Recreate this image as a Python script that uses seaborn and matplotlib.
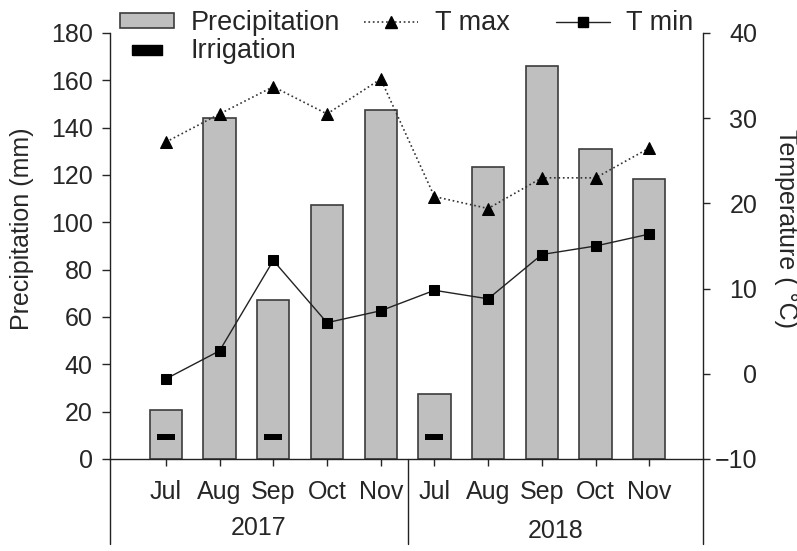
import numpy as np
import pandas as pd
import seaborn as sns
import matplotlib.pyplot as plt
from matplotlib.lines import Line2D
from matplotlib.patches import Patch

# data
months = ['Jul', 'Aug', 'Sep', 'Oct', 'Nov', 'Jul', 'Aug', 'Sep', 'Oct', 'Nov']
years = ['2017', '2018']
precip = [20.5, 144, 67, 107.5, 147.5, 27.5, 123.5, 166, 131, 118.5]
tmax = [27.2, 30.5, 33.7, 30.5, 34.6, 20.8, 19.4, 23.0, 23.0, 26.5]
tmin = [-0.6, 2.7, 13.3, 6.0, 7.4, 9.8, 8.8, 14.0, 15.0, 16.4]
irr_idx = [0, 2, 5]
irr_val = [9.4, 9.4, 9.4]

sns.set_style('ticks')
plt.rcParams['font.family'] = ['Liberation Sans', 'DejaVu Sans']
fs = 18
lfs = 19.5

df = pd.DataFrame({'pos': np.arange(len(months)), 'month': months,
                   'precip': precip, 'tmax': tmax, 'tmin': tmin})
irr = pd.DataFrame({'pos': irr_idx, 'val': irr_val})

fig = plt.figure(figsize=(7.97, 5.51), dpi=100)
ax = fig.add_axes([110/797, 92/551, 593/797, 426/551])

bar_face = '#bfbfbf'
bar_edge = '#3c3c3c'
sns.barplot(data=df, x='pos', y='precip', native_scale=True, width=0.6,
            color=bar_face, saturation=1, edgecolor=bar_edge, linewidth=1.2,
            errorbar=None, ax=ax)

rect = [(-1.5, -0.5), (1.5, -0.5), (1.5, 0.5), (-1.5, 0.5), (-1.5, -0.5)]
sns.scatterplot(data=irr, x='pos', y='val', marker=rect, s=13**2,
                color='black', linewidth=0, ax=ax, zorder=3)

ax2 = ax.twinx()
sns.lineplot(data=df, x='pos', y='tmax', ax=ax2, color='#333333', ls=':',
             lw=1.2, marker='^', markersize=8, mec='black', mfc='black')
sns.lineplot(data=df, x='pos', y='tmin', ax=ax2, color='#222222', ls='-',
             lw=1.0, marker='s', markersize=7, mec='black', mfc='black')

xlo, xhi = -1.04, 10.0
ax.set_xlim(xlo, xhi)
ax.set_ylim(0, 180)
ax2.set_ylim(-10, 40)
ax.set_yticks(range(0, 181, 20))
ax2.set_yticks(range(-10, 41, 10))
ax.set_xticks(df['pos'])
ax.set_xticklabels(months)
ax.set_xlabel('')

for a in (ax, ax2):
    a.spines['top'].set_visible(False)
    for s in a.spines.values():
        s.set_linewidth(1.0)
        s.set_color('#222222')
ax.spines['right'].set_visible(False)
ax2.spines['left'].set_visible(False)
ax2.spines['bottom'].set_visible(False)

ax.tick_params(axis='y', length=5.5, width=1, labelsize=fs, pad=7)
ax.tick_params(axis='x', length=5, width=1, labelsize=fs, pad=10)
ax2.tick_params(axis='y', length=5, width=1, labelsize=fs, pad=34)
plt.setp(ax2.get_yticklabels(), ha='right')

ax.set_ylabel('Precipitation (mm)', fontsize=fs, va='center')
ax.yaxis.set_label_coords(-0.148, 0.54)
ax2.set_ylabel('Temperature ( °C)', fontsize=fs, rotation=270, va='center')
ax2.yaxis.set_label_coords(1.14, 0.54)

# year grouping below the month labels
trans = ax.get_xaxis_transform()
n = len(months) // 2
sep = n - 0.5
for xv in [xlo, sep, xhi]:
    ax.plot([xv, xv], [0, -0.2], transform=trans, color='#222222', lw=1.0,
            clip_on=False)
for yr, xc, yc in zip(years, [(xlo + sep) / 2, (sep + xhi) / 2], [-0.162, -0.17]):
    ax.text(xc, yc, yr, transform=trans, ha='center', va='center', fontsize=fs)

# legend
h_prec = Patch(facecolor=bar_face, edgecolor=bar_edge, linewidth=1.2)
h_irr = Line2D([], [], marker=rect, markersize=21, color='black', ls='none')
h_tmax = Line2D([], [], color='#333333', ls=':', lw=1.2, marker='^', markersize=8,
                mfc='black', mec='black')
h_tmin = Line2D([], [], color='#222222', lw=1.0, marker='s', markersize=7,
                mfc='black', mec='black')
leg_kw = dict(loc='upper left', frameon=False, fontsize=lfs, handlelength=2.0,
              handleheight=0.45, handletextpad=0.6, labelspacing=0.08,
              borderpad=0, borderaxespad=0)
fig.legend([h_prec, h_irr, h_tmax], ['Precipitation', 'Irrigation', 'T max'],
           ncol=2, columnspacing=0.9, bbox_to_anchor=(120/797, 1 - 10/551), **leg_kw)
fig.legend([h_tmin], ['T min'], bbox_to_anchor=(556/797, 1 - 10/551), **leg_kw)

fig.savefig('out.png', dpi=100)
